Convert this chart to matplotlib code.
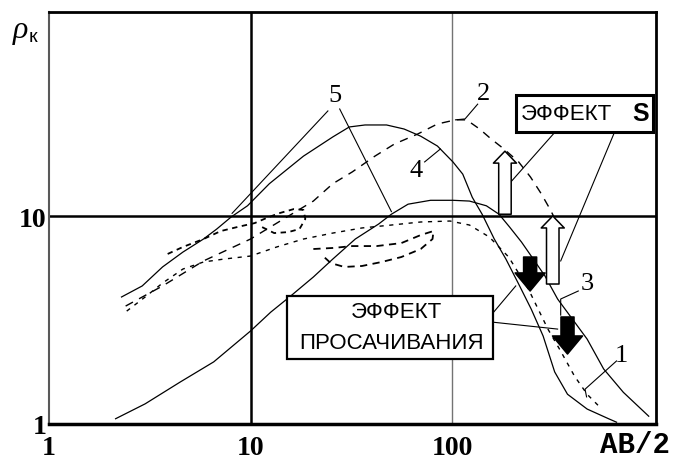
import matplotlib
matplotlib.use("Agg")
import matplotlib.pyplot as plt
from matplotlib.patches import Rectangle
from matplotlib.ticker import NullLocator

# Apparent resistivity rho_k versus half spread AB/2 (log-log)
curve1_x = [2.43, 3.00, 3.66, 4.62, 5.84, 7.38, 10.0, 13.5, 18.3, 25.6, 35.7, 50.0,
            69.9, 97.7, 122, 153, 191, 239, 299, 346, 405, 468, 553]
curve1_y = [3.49, 4.08, 4.76, 5.56, 6.01, 6.21, 6.42, 7.10, 7.75, 8.28, 8.76, 9.05,
            9.36, 9.46, 9.05, 7.93, 6.35, 4.46, 2.86, 2.24, 1.70, 1.39, 1.18]

curve2_x = [2.40, 3.66, 5.84, 10.0, 14.6, 20.5, 25.6, 32.0, 41.4, 51.8, 67.6, 84.6,
            104, 118, 137, 156, 181, 214, 245, 277, 306, 334]
curve2_y = [3.69, 4.61, 6.08, 7.75, 9.68, 11.8, 14.3, 16.3, 19.4, 22.2, 24.8, 27.7,
            29.0, 29.0, 26.2, 23.5, 21.0, 18.2, 15.4, 12.8, 10.8, 9.15]

curve3_x = [2.14, 3.00, 4.47, 6.57, 10.0, 12.6, 15.8, 20.5, 25.6, 33.1, 43.2, 50.0,
            60.5, 78.2, 101, 122, 148, 171, 193, 221, 253, 289, 334, 395, 468, 565,
            708, 946]
curve3_y = [1.06, 1.25, 1.59, 1.99, 2.80, 3.45, 4.12, 5.09, 6.21, 7.75, 9.15, 10.2,
            11.4, 11.9, 11.9, 11.8, 11.2, 10.2, 8.85, 7.50, 6.21, 5.15, 3.99, 3.20,
            2.56, 1.84, 1.42, 1.09]

curve4_x = [2.29, 2.90, 3.66, 4.62, 5.84, 6.80, 8.01, 9.66, 12.4, 18.3, 25.6, 30.9,
            37.0, 47.3, 57.8, 69.9, 84.6, 101, 113, 126, 141, 162, 185, 214, 247, 283,
            323, 374, 468, 598, 655]
curve4_y = [4.08, 4.61, 5.69, 6.71, 7.75, 8.66, 9.89, 11.2, 14.3, 19.4, 24.0, 26.8,
            27.4, 27.4, 26.2, 24.2, 21.7, 18.2, 15.9, 12.3, 10.2, 7.75, 6.21, 4.71,
            3.57, 2.65, 1.78, 1.39, 1.18, 1.06, 1.02]

# field curves with loops (curves 5)
loop5a_x = [3.88, 4.62, 5.84, 7.13, 8.59, 10.5, 12.0, 13.8, 16.4, 18.3, 18.7, 17.5,
            15.4, 13.1, 11.4]
loop5a_y = [6.57, 7.10, 7.75, 8.47, 8.85, 9.25, 9.78, 10.3, 10.8, 10.7, 9.68, 8.66,
            8.37, 8.28, 8.85]
loop5b_x = [20.5, 25.6, 32.0, 42.3, 56.0, 69.9, 80.9, 80.0, 69.9, 56.0, 44.7, 35.7,
            29.2, 25.0, 22.9]
loop5b_y = [6.94, 7.02, 7.17, 7.17, 7.41, 8.10, 8.47, 7.75, 6.94, 6.35, 6.01, 5.75,
            5.69, 5.94, 6.42]

x_ticks = [1, 10, 100]
x_tick_labels = ["1", "10", "100"]
y_ticks = [1, 10]
y_tick_labels = ["1", "10"]

SERIF = "Liberation Serif"
SANS = "Liberation Sans"

fig = plt.figure(figsize=(6.78, 4.6), dpi=100)
ax = fig.add_axes([49 / 678, 35 / 460, 607 / 678, 412 / 460])
ax.set_xscale("log")
ax.set_yscale("log")
ax.set_xlim(1, 1028)
ax.set_ylim(1, 95.7)

# reference lines
ax.axvline(10, color="black", lw=1.8, zorder=1)
ax.axvline(100, color="0.45", lw=1.0, zorder=1)
ax.axhline(10, color="black", lw=1.8, zorder=1)

ax.plot(curve3_x, curve3_y, color="black", lw=0.9, zorder=3)
ax.plot(curve4_x, curve4_y, color="black", lw=0.9, zorder=3)
ax.plot(curve2_x, curve2_y, color="black", lw=1.0, dashes=(6, 5), zorder=3)
ax.plot(curve1_x, curve1_y, color="black", lw=1.0, dashes=(3, 4), zorder=3)
ax.plot(loop5a_x, loop5a_y, color="black", lw=1.3, dashes=(3, 2.5), zorder=3)
ax.plot(loop5b_x, loop5b_y, color="black", lw=1.3, dashes=(4, 3), zorder=3)

# axes frame
for side, lw, col in [("top", 2.0, "black"), ("right", 2.0, "black"),
                      ("bottom", 2.5, "black"), ("left", 1.5, "0.35")]:
    ax.spines[side].set_linewidth(lw)
    ax.spines[side].set_color(col)

ax.set_xticks(x_ticks)
ax.set_xticklabels(x_tick_labels)
ax.set_yticks(y_ticks)
ax.set_yticklabels(y_tick_labels)
ax.xaxis.set_minor_locator(NullLocator())
ax.yaxis.set_minor_locator(NullLocator())
ax.tick_params(axis="x", length=0, pad=8)
ax.tick_params(axis="y", length=0, pad=2)
for lab in ax.get_xticklabels() + ax.get_yticklabels():
    lab.set_fontfamily(SERIF)
    lab.set_fontweight("bold")
    lab.set_fontsize(20)

fig.text(635 / 678, 1 - 445 / 460, "AB/2", family="Liberation Mono",
         weight="bold", fontsize=21, ha="center", va="center")
fig.text(20 / 678, 1 - 31 / 460, "ρ", family=SERIF, style="italic",
         fontsize=23, ha="center", va="center")
fig.text(33 / 678, 1 - 38 / 460, "к", family=SANS, fontsize=14,
         ha="center", va="center")

# curve numbers with leaders
lab_kw = dict(family=SERIF, fontsize=19, ha="center", va="center", zorder=6)
ax.text(26.1, 38.2, "5", **lab_kw)
ax.text(143, 39.0, "2", **lab_kw)
ax.text(66.1, 16.6, "4", **lab_kw)
ax.text(468, 4.76, "3", **lab_kw)
ax.text(692, 2.15, "1", **lab_kw)

lead = dict(color="black", lw=0.8, zorder=4)
ax.plot([24.2, 8.1], [32.0, 10.3], **lead)
ax.plot([27.7, 50.0], [32.7, 10.5], **lead)
ax.plot([134, 116, 104], [34.5, 29.3, 29.0], **lead)
ax.plot([73.1, 87.5], [18.2, 21.0], **lead)
ax.plot([423, 346, 346], [4.36, 3.99, 3.34], **lead)
ax.plot([655, 457, 465], [2.01, 1.47, 1.35], **lead)

# effect arrows
def block_arrow(x, y_from, y_to, face, hw, tw, hl):
    ax.annotate("", xy=(x, y_to), xytext=(x, y_from),
                arrowprops=dict(arrowstyle=f"simple,head_length={hl},head_width={hw},tail_width={tw}",
                                mutation_scale=1, fc=face, ec="black", lw=1.1,
                                shrinkA=0, shrinkB=0),
                zorder=5)

block_arrow(183, 10.2, 20.5, "white", 16.6, 9.0, 8.6)
block_arrow(316, 4.71, 10.0, "white", 16.6, 9.0, 8.6)
block_arrow(244, 6.35, 4.36, "black", 21.6, 9.4, 13)
block_arrow(374, 3.27, 2.17, "black", 21.6, 9.4, 13)

# leaders from the captions to the arrows
ax.plot([324, 196], [25.3, 14.6], **lead)
ax.plot([640, 346], [25.3, 6.08], **lead)
ax.plot([158, 207], [3.38, 4.61], **lead)
ax.plot([158, 334], [3.09, 2.86], **lead)

# caption boxes
ax.add_patch(Rectangle((0.769, 0.709), 0.226, 0.090, transform=ax.transAxes,
                       fc="white", ec="black", lw=2.2, zorder=6))
ax.text(0.853, 0.754, "ЭФФЕКТ", transform=ax.transAxes, family=SANS,
        fontsize=16, ha="center", va="center", zorder=7)
ax.text(0.974, 0.754, "S", transform=ax.transAxes, family=SANS, weight="bold",
        fontsize=18, ha="center", va="center", zorder=7)

ax.add_patch(Rectangle((0.392, 0.158), 0.339, 0.153, transform=ax.transAxes,
                       fc="white", ec="black", lw=1.6, zorder=6))
ax.text(0.573, 0.272, "ЭФФЕКТ", transform=ax.transAxes, family=SANS,
        fontsize=16, ha="center", va="center", zorder=7)
ax.text(0.565, 0.197, "ПРОСАЧИВАНИЯ", transform=ax.transAxes, family=SANS,
        fontsize=16, ha="center", va="center", zorder=7)

fig.savefig("out.png", dpi=100)
